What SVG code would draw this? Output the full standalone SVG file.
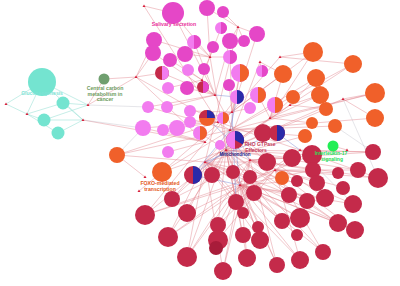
<svg xmlns="http://www.w3.org/2000/svg" width="400" height="286" viewBox="0 0 400 286">
<style>
.e{stroke:#e07f88;stroke-width:0.5;opacity:0.85}
.eg{stroke:#b9b9c4;stroke-width:0.45;opacity:0.8}
.eb{stroke:#6f80d0;stroke-width:0.5;opacity:0.85}
.ec{stroke:#9fe3d8;stroke-width:0.6}
.m{fill:#e547c7}
.v{fill:#f27cef}
.o{fill:#f0602a}
.r{fill:#c42a4a}
.rd{fill:#a81c3a}
.b{fill:#2a2aa8}
.c{fill:#74e4d0}
.g{fill:#6f9f6f}
.gl{fill:#22ee55}
text{font-family:"Liberation Sans",Arial,sans-serif;font-weight:bold;text-anchor:middle}
</style>
<defs><path id="tri" d="M0,-1.6 L1.5,1 L-1.5,1 Z"/></defs>
<rect width="400" height="286" fill="#ffffff"/>
<g id="connectors">
<line class="ec" x1="42" y1="82" x2="6" y2="104"/><line class="ec" x1="42" y1="82" x2="27" y2="114"/><line class="ec" x1="42" y1="82" x2="88" y2="105"/><line class="ec" x1="42" y1="82" x2="83" y2="120"/>
<line class="ec" x1="63" y1="103" x2="27" y2="114"/><line class="ec" x1="63" y1="103" x2="88" y2="105"/><line class="ec" x1="63" y1="103" x2="83" y2="120"/>
<line class="ec" x1="44" y1="120" x2="27" y2="114"/><line class="ec" x1="44" y1="120" x2="83" y2="120"/><line class="ec" x1="44" y1="120" x2="88" y2="105"/>
<line class="ec" x1="58" y1="133" x2="27" y2="114"/><line class="ec" x1="58" y1="133" x2="83" y2="120"/><line class="ec" x1="6" y1="104" x2="27" y2="114"/>
<line class="e" x1="88" y1="105" x2="136" y2="77"/><line class="e" x1="83" y1="120" x2="205" y2="142"/><line class="e" x1="104" y1="79" x2="136" y2="77"/><line class="e" x1="104" y1="79" x2="88" y2="105"/><line class="e" x1="136" y1="77" x2="230" y2="130"/>
<line class="e" x1="312" y1="155" x2="226" y2="150"/><line class="e" x1="312" y1="155" x2="275" y2="170"/><line class="e" x1="292" y1="158" x2="226" y2="150"/><line class="e" x1="292" y1="158" x2="250" y2="160"/>
<line class="e" x1="267" y1="162" x2="205" y2="162"/><line class="e" x1="267" y1="162" x2="230" y2="130"/><line class="e" x1="373" y1="152" x2="300" y2="150"/><line class="e" x1="373" y1="152" x2="250" y2="160"/>
<line class="e" x1="313" y1="170" x2="250" y2="160"/><line class="e" x1="313" y1="170" x2="240" y2="185"/><line class="e" x1="338" y1="173" x2="275" y2="170"/><line class="e" x1="358" y1="170" x2="275" y2="170"/><line class="e" x1="358" y1="170" x2="226" y2="150"/>
<line class="e" x1="378" y1="178" x2="300" y2="150"/><line class="e" x1="378" y1="178" x2="250" y2="160"/><line class="e" x1="297" y1="181" x2="240" y2="185"/><line class="e" x1="317" y1="183" x2="250" y2="160"/><line class="e" x1="343" y1="187" x2="275" y2="170"/>
<line class="e" x1="212" y1="175" x2="226" y2="150"/><line class="e" x1="233" y1="172" x2="230" y2="130"/><line class="e" x1="250" y1="177" x2="205" y2="162"/>
<line class="e" x1="172" y1="199" x2="226" y2="150"/><line class="e" x1="172" y1="199" x2="250" y2="160"/><line class="e" x1="145" y1="215" x2="226" y2="150"/><line class="e" x1="145" y1="215" x2="240" y2="185"/><line class="e" x1="145" y1="215" x2="275" y2="170"/>
<line class="e" x1="187" y1="213" x2="230" y2="130"/><line class="e" x1="187" y1="213" x2="275" y2="170"/><line class="e" x1="236" y1="202" x2="226" y2="150"/><line class="e" x1="236" y1="202" x2="300" y2="150"/><line class="e" x1="254" y1="193" x2="205" y2="162"/><line class="e" x1="243" y1="213" x2="250" y2="160"/>
<line class="e" x1="218" y1="225" x2="226" y2="150"/><line class="e" x1="218" y1="225" x2="275" y2="170"/><line class="e" x1="258" y1="227" x2="205" y2="162"/>
<line class="e" x1="168" y1="237" x2="240" y2="185"/><line class="e" x1="168" y1="237" x2="226" y2="150"/><line class="e" x1="168" y1="237" x2="300" y2="150"/>
<line class="e" x1="218" y1="240" x2="250" y2="160"/><line class="e" x1="218" y1="240" x2="275" y2="170"/><line class="e" x1="243" y1="235" x2="226" y2="150"/><line class="e" x1="260" y1="240" x2="205" y2="162"/><line class="e" x1="260" y1="240" x2="240" y2="185"/>
<line class="e" x1="187" y1="257" x2="240" y2="185"/><line class="e" x1="187" y1="257" x2="250" y2="160"/><line class="e" x1="187" y1="257" x2="226" y2="150"/><line class="e" x1="247" y1="258" x2="240" y2="185"/><line class="e" x1="247" y1="258" x2="226" y2="150"/>
<line class="e" x1="223" y1="271" x2="240" y2="185"/><line class="e" x1="223" y1="271" x2="250" y2="160"/><line class="e" x1="289" y1="195" x2="226" y2="150"/><line class="e" x1="289" y1="195" x2="240" y2="185"/><line class="e" x1="307" y1="201" x2="205" y2="162"/>
<line class="e" x1="325" y1="198" x2="240" y2="185"/><line class="e" x1="325" y1="198" x2="230" y2="130"/><line class="e" x1="353" y1="204" x2="240" y2="185"/><line class="e" x1="353" y1="204" x2="226" y2="150"/>
<line class="e" x1="282" y1="221" x2="240" y2="185"/><line class="e" x1="282" y1="221" x2="226" y2="150"/><line class="e" x1="300" y1="218" x2="205" y2="162"/><line class="e" x1="300" y1="218" x2="240" y2="185"/>
<line class="e" x1="338" y1="223" x2="240" y2="185"/><line class="e" x1="338" y1="223" x2="250" y2="160"/><line class="e" x1="355" y1="230" x2="240" y2="185"/><line class="e" x1="355" y1="230" x2="205" y2="162"/><line class="e" x1="297" y1="235" x2="240" y2="185"/>
<line class="e" x1="323" y1="252" x2="240" y2="185"/><line class="e" x1="323" y1="252" x2="226" y2="150"/><line class="e" x1="300" y1="260" x2="240" y2="185"/><line class="e" x1="300" y1="260" x2="205" y2="162"/><line class="e" x1="277" y1="265" x2="240" y2="185"/><line class="e" x1="277" y1="265" x2="226" y2="150"/>
<line class="e" x1="313" y1="52" x2="280" y2="57"/><line class="e" x1="313" y1="52" x2="270" y2="118"/><line class="e" x1="353" y1="64" x2="280" y2="57"/><line class="e" x1="353" y1="64" x2="230" y2="130"/><line class="e" x1="283" y1="74" x2="260" y2="62"/><line class="e" x1="283" y1="74" x2="270" y2="118"/>
<line class="e" x1="316" y1="78" x2="290" y2="105"/><line class="e" x1="316" y1="78" x2="230" y2="130"/><line class="e" x1="320" y1="95" x2="290" y2="105"/><line class="e" x1="320" y1="95" x2="270" y2="118"/><line class="e" x1="375" y1="93" x2="343" y2="99"/><line class="e" x1="375" y1="93" x2="230" y2="130"/>
<line class="e" x1="293" y1="97" x2="270" y2="118"/><line class="e" x1="326" y1="109" x2="290" y2="105"/><line class="e" x1="326" y1="109" x2="226" y2="150"/><line class="e" x1="375" y1="118" x2="343" y2="99"/><line class="e" x1="375" y1="118" x2="230" y2="130"/>
<line class="e" x1="312" y1="123" x2="270" y2="118"/><line class="e" x1="335" y1="126" x2="230" y2="130"/><line class="e" x1="305" y1="136" x2="230" y2="130"/><line class="e" x1="305" y1="136" x2="205" y2="162"/>
<line class="e" x1="117" y1="155" x2="230" y2="130"/><line class="e" x1="117" y1="155" x2="205" y2="162"/><line class="e" x1="117" y1="155" x2="145" y2="177"/><line class="e" x1="117" y1="155" x2="218" y2="122"/><line class="e" x1="162" y1="172" x2="230" y2="130"/><line class="e" x1="162" y1="172" x2="226" y2="150"/><line class="e" x1="162" y1="172" x2="139" y2="191"/><line class="e" x1="162" y1="172" x2="232" y2="112"/><line class="e" x1="282" y1="178" x2="205" y2="162"/>
<line class="e" x1="173" y1="13" x2="144" y2="6"/><line class="e" x1="173" y1="13" x2="210" y2="57"/><line class="e" x1="173" y1="13" x2="215" y2="95"/><line class="e" x1="207" y1="8" x2="210" y2="57"/><line class="e" x1="207" y1="8" x2="238" y2="27"/><line class="e" x1="223" y1="12" x2="238" y2="27"/><line class="e" x1="221" y1="28" x2="210" y2="57"/>
<line class="e" x1="257" y1="34" x2="238" y2="27"/><line class="e" x1="257" y1="34" x2="232" y2="112"/><line class="e" x1="154" y1="40" x2="210" y2="57"/><line class="e" x1="154" y1="40" x2="136" y2="77"/><line class="e" x1="194" y1="42" x2="210" y2="57"/><line class="e" x1="194" y1="42" x2="215" y2="95"/><line class="e" x1="213" y1="47" x2="202" y2="80"/>
<line class="e" x1="230" y1="41" x2="238" y2="27"/><line class="e" x1="230" y1="41" x2="215" y2="95"/><line class="e" x1="244" y1="41" x2="238" y2="27"/><line class="e" x1="153" y1="53" x2="136" y2="77"/><line class="e" x1="153" y1="53" x2="215" y2="95"/><line class="e" x1="185" y1="54" x2="210" y2="57"/>
<line class="e" x1="230" y1="57" x2="210" y2="57"/><line class="e" x1="230" y1="57" x2="232" y2="112"/><line class="e" x1="170" y1="60" x2="202" y2="80"/><line class="e" x1="162" y1="73" x2="136" y2="77"/><line class="e" x1="162" y1="73" x2="215" y2="95"/><line class="e" x1="188" y1="70" x2="202" y2="80"/><line class="e" x1="204" y1="69" x2="210" y2="57"/>
<line class="e" x1="240" y1="73" x2="232" y2="112"/><line class="e" x1="240" y1="73" x2="230" y2="130"/><line class="e" x1="262" y1="71" x2="260" y2="62"/><line class="e" x1="168" y1="88" x2="202" y2="80"/><line class="e" x1="187" y1="88" x2="215" y2="95"/><line class="e" x1="203" y1="87" x2="215" y2="95"/><line class="e" x1="229" y1="85" x2="232" y2="112"/>
<line class="e" x1="148" y1="107" x2="215" y2="95"/><line class="e" x1="148" y1="107" x2="230" y2="130"/><line class="e" x1="167" y1="107" x2="215" y2="95"/><line class="e" x1="190" y1="111" x2="232" y2="112"/><line class="e" x1="143" y1="128" x2="205" y2="142"/><line class="e" x1="143" y1="128" x2="218" y2="122"/>
<line class="e" x1="163" y1="130" x2="205" y2="142"/><line class="e" x1="177" y1="128" x2="218" y2="122"/><line class="e" x1="190" y1="122" x2="218" y2="122"/><line class="e" x1="200" y1="133" x2="226" y2="150"/><line class="e" x1="207" y1="118" x2="232" y2="112"/><line class="e" x1="223" y1="118" x2="226" y2="150"/>
<line class="e" x1="237" y1="97" x2="218" y2="122"/><line class="e" x1="258" y1="95" x2="270" y2="118"/><line class="e" x1="250" y1="108" x2="232" y2="112"/><line class="e" x1="235" y1="140" x2="226" y2="150"/><line class="e" x1="220" y1="145" x2="205" y2="162"/><line class="e" x1="168" y1="152" x2="205" y2="142"/><line class="e" x1="275" y1="105" x2="270" y2="118"/>
<line class="e" x1="215" y1="95" x2="250" y2="160"/><line class="e" x1="210" y1="57" x2="226" y2="150"/><line class="e" x1="238" y1="27" x2="205" y2="162"/><line class="e" x1="280" y1="57" x2="205" y2="142"/><line class="e" x1="343" y1="99" x2="226" y2="150"/><line class="e" x1="290" y1="105" x2="205" y2="162"/>
<line class="e" x1="136" y1="77" x2="205" y2="142"/><line class="e" x1="144" y1="6" x2="218" y2="122"/><line class="e" x1="260" y1="62" x2="226" y2="150"/><line class="e" x1="270" y1="118" x2="205" y2="162"/><line class="e" x1="290" y1="105" x2="226" y2="150"/><line class="e" x1="300" y1="150" x2="218" y2="122"/>
<line class="e" x1="353" y1="64" x2="290" y2="105"/><line class="e" x1="375" y1="93" x2="270" y2="118"/><line class="e" x1="313" y1="52" x2="232" y2="112"/><line class="e" x1="283" y1="74" x2="218" y2="122"/><line class="e" x1="145" y1="215" x2="205" y2="142"/><line class="e" x1="168" y1="237" x2="205" y2="162"/>
<line class="e" x1="187" y1="257" x2="205" y2="162"/><line class="e" x1="223" y1="271" x2="205" y2="162"/><line class="e" x1="277" y1="265" x2="250" y2="160"/><line class="e" x1="300" y1="260" x2="275" y2="170"/><line class="e" x1="355" y1="230" x2="275" y2="170"/><line class="e" x1="378" y1="178" x2="275" y2="170"/>
<line class="e" x1="373" y1="152" x2="226" y2="150"/><line class="e" x1="338" y1="223" x2="226" y2="150"/><line class="e" x1="323" y1="252" x2="275" y2="170"/><line class="e" x1="172" y1="199" x2="205" y2="162"/><line class="e" x1="218" y1="225" x2="240" y2="185"/><line class="e" x1="260" y1="240" x2="226" y2="150"/>
<line class="eg" x1="88" y1="105" x2="148" y2="107"/><line class="eg" x1="83" y1="120" x2="143" y2="128"/><line class="eg" x1="143" y1="128" x2="117" y2="155"/><line class="eg" x1="373" y1="152" x2="335" y2="126"/><line class="eg" x1="378" y1="178" x2="343" y2="99"/><line class="eg" x1="353" y1="204" x2="300" y2="150"/>
<line class="eb" x1="193" y1="175" x2="226" y2="150"/><line class="eb" x1="193" y1="175" x2="230" y2="130"/><line class="eb" x1="237" y1="97" x2="226" y2="150"/><line class="eb" x1="277" y1="133" x2="205" y2="162"/><line class="eb" x1="235" y1="140" x2="240" y2="185"/><line class="eb" x1="277" y1="133" x2="300" y2="150"/><line class="eb" x1="207" y1="118" x2="250" y2="160"/><line class="eb" x1="236" y1="202" x2="232" y2="112"/>
<line class="eb" x1="237" y1="97" x2="215" y2="95"/><line class="eb" x1="193" y1="175" x2="240" y2="185"/>
<line class="e" x1="333" y1="146" x2="347" y2="150"/>
</g>
<g id="markers" fill="#d8203c">
<use href="#tri" x="6" y="104"/><use href="#tri" x="27" y="114"/><use href="#tri" x="88" y="105"/><use href="#tri" x="83" y="120"/>
<use href="#tri" x="226" y="150"/><use href="#tri" x="205" y="162"/><use href="#tri" x="250" y="160"/><use href="#tri" x="240" y="185"/><use href="#tri" x="275" y="170"/><use href="#tri" x="300" y="150"/><use href="#tri" x="230" y="130"/>
<use href="#tri" x="270" y="118"/><use href="#tri" x="290" y="105"/><use href="#tri" x="280" y="57"/><use href="#tri" x="343" y="99"/><use href="#tri" x="260" y="62"/>
<use href="#tri" x="210" y="57"/><use href="#tri" x="238" y="27"/><use href="#tri" x="144" y="6"/><use href="#tri" x="136" y="77"/><use href="#tri" x="202" y="80"/><use href="#tri" x="215" y="95"/><use href="#tri" x="232" y="112"/><use href="#tri" x="218" y="122"/><use href="#tri" x="205" y="142"/>
<use href="#tri" x="145" y="177"/><use href="#tri" x="139" y="191"/><use href="#tri" x="347" y="150"/>
</g>
<g id="n_gluco"><circle class="c" cx="42" cy="82" r="14"/></g>
<g id="n_c2"><circle class="c" cx="63" cy="103" r="6.5"/></g>
<g id="n_c3"><circle class="c" cx="44" cy="120" r="6.5"/></g>
<g id="n_c4"><circle class="c" cx="58" cy="133" r="6.5"/></g>
<g id="n_ccm"><circle class="g" cx="104" cy="79" r="5.5"/></g>
<g id="n_saliv"><circle class="m" cx="173" cy="13" r="11"/></g>
<g id="n_m2"><circle class="m" cx="207" cy="8" r="8"/></g>
<g id="n_m3"><circle class="m" cx="223" cy="12" r="6"/></g>
<g id="n_m4"><circle class="v" cx="221" cy="28" r="6"/><path class="m" d="M221,22 A6 6 0 0 1 221,34 Z"/></g>
<g id="n_m5"><circle class="m" cx="257" cy="34" r="8"/></g>
<g id="n_m6"><circle class="m" cx="154" cy="40" r="8"/></g>
<g id="n_m7"><circle class="v" cx="194" cy="42" r="7"/><path class="m" d="M194,35 A7 7 0 0 1 194,49 Z"/></g>
<g id="n_m8"><circle class="m" cx="213" cy="47" r="6"/></g>
<g id="n_m9"><circle class="m" cx="230" cy="41" r="8"/></g>
<g id="n_m10"><circle class="m" cx="244" cy="41" r="6"/></g>
<g id="n_m11"><circle class="m" cx="153" cy="53" r="8"/></g>
<g id="n_m12"><circle class="m" cx="185" cy="54" r="8"/></g>
<g id="n_m13"><circle class="v" cx="230" cy="57" r="7"/><path class="m" d="M230,50 A7 7 0 0 1 230,64 Z"/></g>
<g id="n_m14"><circle class="m" cx="170" cy="60" r="7"/></g>
<g id="n_m15"><circle class="r" cx="162" cy="73" r="7"/><path class="v" d="M162,66 A7 7 0 0 1 162,80 Z"/></g>
<g id="n_m16"><circle class="v" cx="188" cy="70" r="6"/></g>
<g id="n_m17"><circle class="m" cx="204" cy="69" r="6"/></g>
<g id="n_m18"><circle class="v" cx="240" cy="73" r="9"/><path class="o" d="M240,64 A9 9 0 0 1 240,82 Z"/></g>
<g id="n_m19"><circle class="v" cx="262" cy="71" r="6"/><path class="m" d="M262,65 A6 6 0 0 1 262,77 Z"/></g>
<g id="n_m20"><circle class="v" cx="168" cy="88" r="6"/></g>
<g id="n_m21"><circle class="m" cx="187" cy="88" r="7"/></g>
<g id="n_m22"><circle class="r" cx="203" cy="87" r="6"/><path class="m" d="M203,81 A6 6 0 0 1 203,93 Z"/></g>
<g id="n_m23"><circle class="m" cx="229" cy="85" r="6"/></g>
<g id="n_v1"><circle class="v" cx="148" cy="107" r="6"/></g>
<g id="n_v2"><circle class="v" cx="167" cy="107" r="6"/></g>
<g id="n_v3"><circle class="v" cx="190" cy="111" r="6"/></g>
<g id="n_v4"><circle class="v" cx="143" cy="128" r="8"/></g>
<g id="n_v5"><circle class="v" cx="163" cy="130" r="6"/></g>
<g id="n_v6"><circle class="v" cx="177" cy="128" r="8"/></g>
<g id="n_v7"><circle class="v" cx="190" cy="122" r="6"/></g>
<g id="n_v8"><circle class="v" cx="200" cy="133" r="7"/><path class="o" d="M200,126 A7 7 0 0 1 200,140 Z"/></g>
<g id="n_v9"><circle class="o" cx="207" cy="118" r="8"/><path class="b" d="M207,118 L207,110 A8 8 0 0 1 215,118 Z"/><path class="r" d="M207,118 L199,118 A8 8 0 0 1 207,110 Z"/></g>
<g id="n_v10"><circle class="v" cx="223" cy="118" r="6"/><path class="o" d="M223,112 A6 6 0 0 1 223,124 Z"/></g>
<g id="n_v11"><circle class="v" cx="237" cy="97" r="7"/><path class="b" d="M237,90 A7 7 0 0 1 237,104 Z"/></g>
<g id="n_v12"><circle class="v" cx="258" cy="95" r="8"/><path class="o" d="M258,87 A8 8 0 0 1 258,103 Z"/></g>
<g id="n_v13"><circle class="v" cx="250" cy="108" r="6"/></g>
<g id="n_v14"><circle class="r" cx="235" cy="140" r="9"/><path class="v" d="M235,140 L235,149 A9 9 0 0 1 235,131 Z"/><path class="b" d="M235,140 L235,131 A9 9 0 0 1 242.8,144.5 Z"/></g>
<g id="n_v15"><circle class="v" cx="220" cy="145" r="5"/></g>
<g id="n_v16"><circle class="v" cx="168" cy="152" r="6"/></g>
<g id="n_v17"><circle class="v" cx="275" cy="105" r="8"/><path class="o" d="M275,97 A8 8 0 0 1 275,113 Z"/></g>
<g id="n_o1"><circle class="o" cx="313" cy="52" r="10"/></g>
<g id="n_o2"><circle class="o" cx="353" cy="64" r="9"/></g>
<g id="n_o3"><circle class="o" cx="283" cy="74" r="9"/></g>
<g id="n_o4"><circle class="o" cx="316" cy="78" r="9"/></g>
<g id="n_o5"><circle class="o" cx="320" cy="95" r="9"/></g>
<g id="n_o6"><circle class="o" cx="375" cy="93" r="10"/></g>
<g id="n_o7"><circle class="o" cx="293" cy="97" r="7"/></g>
<g id="n_o8"><circle class="o" cx="326" cy="109" r="7"/></g>
<g id="n_o9"><circle class="o" cx="375" cy="118" r="9"/></g>
<g id="n_o10"><circle class="o" cx="312" cy="123" r="6"/></g>
<g id="n_o11"><circle class="o" cx="335" cy="126" r="7"/></g>
<g id="n_o12"><circle class="o" cx="305" cy="136" r="7"/></g>
<g id="n_o13"><circle class="o" cx="117" cy="155" r="8"/></g>
<g id="n_foxo"><circle class="o" cx="162" cy="172" r="10"/></g>
<g id="n_o15"><circle class="o" cx="282" cy="178" r="7"/></g>
<g id="n_rho"><circle class="r" cx="263" cy="133" r="9"/></g>
<g id="n_rb1"><circle class="r" cx="277" cy="133" r="8"/><path class="b" d="M277,125 A8 8 0 0 1 277,141 Z"/></g>
<g id="n_rb2"><circle class="r" cx="193" cy="175" r="9"/><path class="b" d="M193,166 A9 9 0 0 1 193,184 Z"/></g>
<g id="n_il17"><circle class="gl" cx="333" cy="146" r="5.5"/></g>
<g id="n_r1"><circle class="r" cx="312" cy="155" r="10"/></g>
<g id="n_r2"><circle class="r" cx="292" cy="158" r="9"/></g>
<g id="n_r3"><circle class="r" cx="267" cy="162" r="9"/></g>
<g id="n_r4"><circle class="r" cx="373" cy="152" r="8"/></g>
<g id="n_r5"><circle class="r" cx="313" cy="170" r="8"/></g>
<g id="n_r6"><circle class="r" cx="338" cy="173" r="6"/></g>
<g id="n_r7"><circle class="r" cx="358" cy="170" r="8"/></g>
<g id="n_r8"><circle class="r" cx="378" cy="178" r="10"/></g>
<g id="n_r9"><circle class="r" cx="297" cy="181" r="6"/></g>
<g id="n_r10"><circle class="r" cx="317" cy="183" r="8"/></g>
<g id="n_r11"><circle class="r" cx="343" cy="188" r="7"/></g>
<g id="n_r12"><circle class="r" cx="212" cy="175" r="8"/></g>
<g id="n_r13"><circle class="r" cx="233" cy="172" r="7"/></g>
<g id="n_r14"><circle class="r" cx="250" cy="177" r="7"/></g>
<g id="n_r15"><circle class="r" cx="172" cy="199" r="8"/></g>
<g id="n_r16"><circle class="r" cx="145" cy="215" r="10"/></g>
<g id="n_r17"><circle class="r" cx="187" cy="213" r="9"/></g>
<g id="n_r18"><circle class="r" cx="236" cy="202" r="8"/></g>
<g id="n_r19"><circle class="r" cx="254" cy="193" r="8"/></g>
<g id="n_r20"><circle class="r" cx="243" cy="213" r="6"/></g>
<g id="n_r21"><circle class="r" cx="218" cy="225" r="8"/></g>
<g id="n_r22"><circle class="r" cx="258" cy="227" r="6"/></g>
<g id="n_r23"><circle class="r" cx="168" cy="237" r="10"/></g>
<g id="n_r24"><circle class="r" cx="218" cy="240" r="10"/><circle class="rd" cx="216" cy="248" r="7"/></g>
<g id="n_r25"><circle class="r" cx="243" cy="235" r="8"/></g>
<g id="n_r26"><circle class="r" cx="260" cy="240" r="9"/></g>
<g id="n_r27"><circle class="r" cx="187" cy="257" r="10"/></g>
<g id="n_r28"><circle class="r" cx="247" cy="258" r="9"/></g>
<g id="n_r29"><circle class="r" cx="223" cy="271" r="9"/></g>
<g id="n_r30"><circle class="r" cx="289" cy="195" r="8"/></g>
<g id="n_r31"><circle class="r" cx="307" cy="201" r="8"/></g>
<g id="n_r32"><circle class="r" cx="325" cy="198" r="9"/></g>
<g id="n_r33"><circle class="r" cx="353" cy="204" r="9"/></g>
<g id="n_r34"><circle class="r" cx="282" cy="221" r="8"/></g>
<g id="n_r35"><circle class="r" cx="300" cy="218" r="10"/></g>
<g id="n_r36"><circle class="r" cx="338" cy="223" r="9"/></g>
<g id="n_r37"><circle class="r" cx="355" cy="230" r="9"/></g>
<g id="n_r38"><circle class="r" cx="297" cy="235" r="6"/></g>
<g id="n_r39"><circle class="r" cx="323" cy="252" r="8"/></g>
<g id="n_r40"><circle class="r" cx="300" cy="260" r="9"/></g>
<g id="n_r41"><circle class="r" cx="277" cy="265" r="8"/></g>
<g id="labels">
<text x="42" y="95" font-size="5" fill="#7fe3d5">Gluconeogenesis</text>
<text x="105" y="90" font-size="5.2" fill="#6e9c5e">Central carbon</text>
<text x="105" y="95.5" font-size="5.2" fill="#6e9c5e">metabolism in</text>
<text x="105" y="101" font-size="5.2" fill="#6e9c5e">cancer</text>
<text x="174" y="26" font-size="5.2" fill="#e8309c">Salivary secretion</text>
<text x="160" y="185" font-size="5.2" fill="#e45a1a">FOXO-mediated</text>
<text x="160" y="191" font-size="5.2" fill="#e45a1a">transcription</text>
<text x="260" y="146" font-size="5" fill="#c2385a">RHO GTPase</text>
<text x="256" y="152" font-size="5" fill="#c2385a">Effectors</text>
<text x="235" y="156" font-size="4.5" fill="#1a1a80">Mitochondrion</text>
<text x="331" y="155" font-size="5" fill="#22dd55">Interleukin-17</text>
<text x="332" y="161" font-size="5" fill="#22dd55">signaling</text>
</g>
</svg>
